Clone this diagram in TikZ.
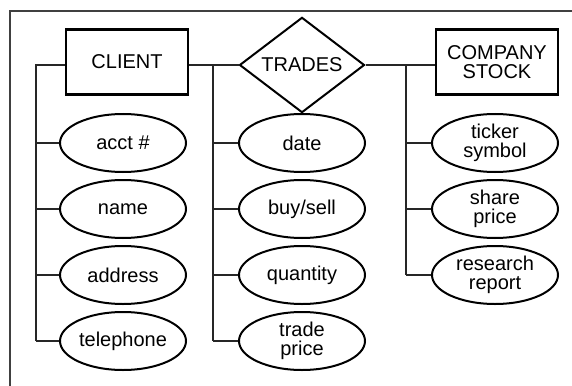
\documentclass[tikz,border=0pt]{standalone}
\usepackage{fontspec}
\setmainfont{Liberation Sans}
\usepackage{tikz}
\usetikzlibrary{shapes.geometric,calc}

\begin{document}
\begin{tikzpicture}[
  x=1pt, y=-1pt,
  font=\fontsize{20}{18.5}\selectfont,
  entitybox/.style={draw=black, line width=2.2pt, minimum width=122pt,
    minimum height=65pt, inner sep=0pt, align=center},
  relation/.style={draw=black, line width=2pt, diamond, minimum width=125pt,
    minimum height=77pt, inner sep=0pt, align=center},
  attrib/.style={draw=black, line width=2pt, ellipse, minimum width=126pt,
    minimum height=58pt, inner sep=0pt, align=center},
  link/.style={draw=black!85, line width=1.2pt}
]
\clip (0,0) rectangle (572,385);
\useasboundingbox (0,0) rectangle (572,385);
% ---------------- frame ----------------
\draw[black!75, line width=1.3pt] (10,11) rectangle (620,430);
% ---------------- entities and relation ----------------
\node[entitybox] (client) at (127,62) {CLIENT};
\node[relation] (trades) at (302,65) {TRADES};
\node[entitybox] (stock) at (497,62) {COMPANY\\STOCK};
% ---------------- attributes ----------------
\node[attrib] (acct) at (123,143) {acct \#};
\node[attrib] (name) at (123,209) {name};
\node[attrib] (address) at (123,275) {address};
\node[attrib] (phone) at (123,341) {telephone};
\node[attrib] (date) at (302,143) {date};
\node[attrib] (buysell) at (302,209) {buy/sell};
\node[attrib] (qty) at (302,275) {quantity};
\node[attrib] (tprice) at (302,341) {trade\\price};
\node[attrib] (ticker) at (495,143) {ticker\\symbol};
\node[attrib] (sprice) at (495,209) {share\\price};
\node[attrib] (report) at (495,275) {research\\report};
% ---------------- buses ----------------
\coordinate (lbus) at (36,65);
\coordinate (mbus) at (213,65);
\coordinate (rbus) at (406,65);
\draw[link] (client.west |- trades) -- (lbus) -- (lbus |- phone);
\draw[link] (client.east |- trades) -- (trades.west);
\draw[link] (mbus) -- (mbus |- tprice);
\draw[link] (trades.east) -- (stock.west |- trades);
\draw[link] (rbus) -- (rbus |- report);
\foreach \a in {acct,name,address,phone}
  \draw[link] (lbus |- \a) -- (\a.west);
\foreach \a in {date,buysell,qty,tprice}
  \draw[link] (mbus |- \a) -- (\a.west);
\foreach \a in {ticker,sprice,report}
  \draw[link] (rbus |- \a) -- (\a.west);
\end{tikzpicture}
\end{document}
